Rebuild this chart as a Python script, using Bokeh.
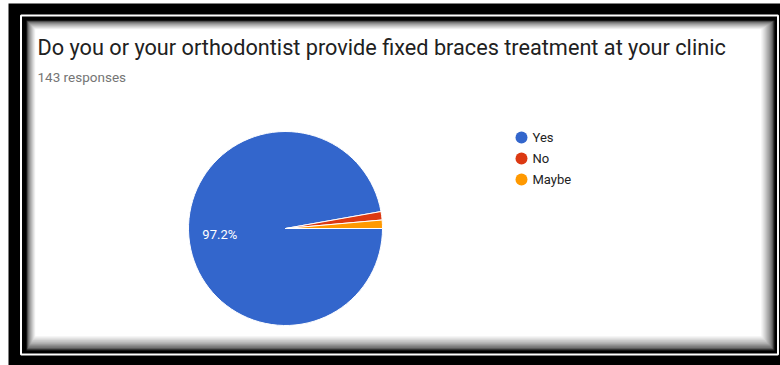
import math
from bokeh.plotting import figure
from bokeh.models import Range1d, ColumnDataSource
from bokeh.core.properties import value
from bokeh.embed import file_html
from bokeh.resources import INLINE

# ---- data ----
categories = ["Yes", "No", "Maybe"]
counts = [139, 2, 2]
colors = ["#3366CC", "#DC3912", "#FF9900"]
title_text = "Do you or your orthodontist provide fixed braces treatment at your clinic"
subtitle_text = "143 responses"

W, H = 780, 365
def fy(y):
    return H - y

p = figure(width=W, height=H, x_range=Range1d(0, W), y_range=Range1d(0, H),
           output_backend="svg", toolbar_location=None, min_border=0)
p.axis.visible = False
p.grid.visible = False
p.outline_line_color = None
p.background_fill_color = "white"
p.border_fill_color = "white"

# ---- frame decoration ----
p.quad(left=[8], right=[W], top=[fy(3)], bottom=[fy(H)], fill_color="black", line_color=None)
p.quad(left=[20.5], right=[777.5], top=[fy(15)], bottom=[fy(354)], fill_color=None,
       line_color="white", line_width=2)
p.quad(left=[23], right=[776], top=[fy(17)], bottom=[fy(352)], fill_color="black", line_color=None)
# inner panel with soft inner shadow
steps = 12
for i in range(steps):
    t = i / (steps - 1)
    g = int(40 + (255 - 40) * (t ** 0.6))
    col = "#%02x%02x%02x" % (g, g, g)
    l = 26 + i * 0.8
    r = 774 - i * 1.2
    tp = 20 + i * 0.8
    b = 350 - i * 1.3
    p.quad(left=[l], right=[r], top=[fy(tp)], bottom=[fy(b)], fill_color=col, line_color=None)

# ---- titles ----
p.text(x=[37], y=[fy(47)], text=[title_text], text_font=value("Roboto"), text_font_size="21.7px",
       text_color="#212121", text_baseline="middle", text_align="left")
p.text(x=[37], y=[fy(76)], text=[subtitle_text], text_font=value("Roboto"), text_font_size="13.5px",
       text_color="#757575", text_baseline="middle", text_align="left")

# ---- pie ----
cx, cy, R = 285, 228, 97
total = sum(counts)
starts, ends, mids = [], [], []
a0 = 0.0
for c in counts:
    a1 = a0 - c / total * 2 * math.pi
    starts.append(a1)
    ends.append(a0)
    mids.append((a0 + a1) / 2)
    a0 = a1
src = ColumnDataSource(dict(start=starts, end=ends, color=colors, cat=categories))
p.wedge(x=cx, y=fy(cy), radius=R, start_angle="start", end_angle="end",
        fill_color="color", line_color="white", line_width=1, source=src)

# percentage label on the big slice
pct = counts[0] / total * 100
lr = 0.68 * R
p.text(x=[cx + lr * math.cos(mids[0])], y=[fy(cy) + lr * math.sin(mids[0])],
       text=["%.1f%%" % pct], text_font=value("Roboto"), text_font_size="13px",
       text_color="white", text_align="center", text_baseline="middle")

# ---- legend ----
ly = [137, 158, 179]
p.scatter(x=[521] * 3, y=[fy(v) for v in ly], size=12, marker="circle",
          fill_color=colors, line_color=None)
p.text(x=[532] * 3, y=[fy(v) for v in ly], text=categories, text_font=value("Roboto"),
       text_font_size="13px", text_color="#222222", text_baseline="middle", text_align="left")

open("out.html", "w").write(file_html(p, INLINE))
